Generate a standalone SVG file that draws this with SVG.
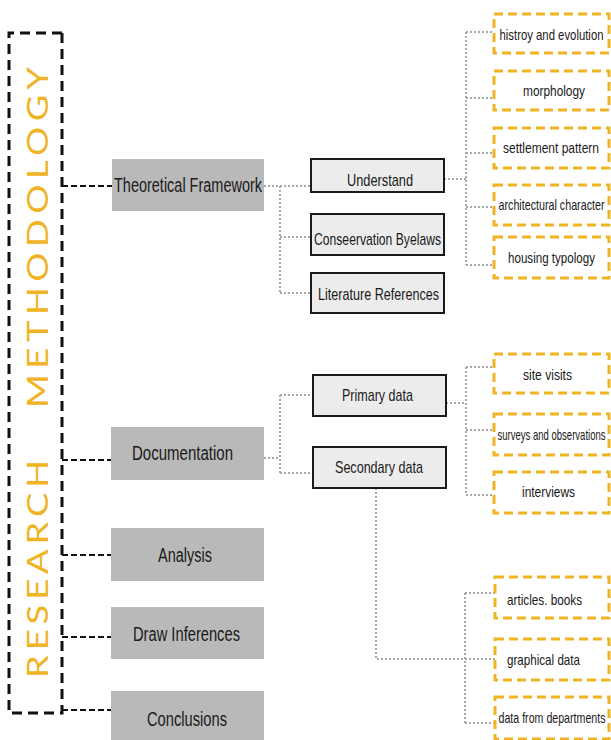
<svg xmlns="http://www.w3.org/2000/svg" width="611" height="740" viewBox="0 0 611 740">
<style>
.grey rect{fill:#b9b9b9;stroke:none}
.white rect{fill:#ececec;stroke:#1a1a1a;stroke-width:2}
.orange rect{fill:#fff;stroke:#f0b323;stroke-width:3;stroke-dasharray:9 5}
text{font-family:"Liberation Sans",Arial,sans-serif;fill:#1a1a1a;text-anchor:middle}
.grey text{font-size:20px}
.white text{font-size:17px}
.orange text{font-size:15px}
.blk{fill:none;stroke:#111;stroke-width:2;stroke-dasharray:6 3}
.dot{fill:none;stroke:#a8a8a8;stroke-width:2;stroke-dasharray:2 2}
.title{font-family:Lato,"Noto Sans",sans-serif;font-weight:400;font-size:28px;fill:#f0b323;text-anchor:start}
</style>
<rect width="611" height="740" fill="#fff"/>
<g id="frame">
<path d="M62,33 H9 V713 H62 V33" fill="none" stroke="#111" stroke-width="3" stroke-dasharray="10 6"/>
<text class="title" transform="translate(48,678) rotate(-90) scale(1.3,1)" textLength="167.7" lengthAdjust="spacing">RESEARCH</text>
<text class="title" transform="translate(48,408) rotate(-90) scale(1.3,1)" textLength="262.3" lengthAdjust="spacing">METHODOLOGY</text>
</g>
<g id="connectors">
<path class="blk" d="M62,186 H112 M62,460 H111 M62,555 H111 M62,637 H111 M62,710 H111"/>
<path class="dot" d="M264,186 H311 M280,186 V293 M280,237 H311 M280,293 H311"/>
<path class="dot" d="M444,179 H466 M466,32 V265 M466,32 H494 M466,98 H494 M466,153 H494 M466,207 H494 M466,265 H494"/>
<path class="dot" d="M264,458 H280 M280,395 V473 M280,395 H313 M280,473 H313"/>
<path class="dot" d="M446,403 H466 M466,367 V495 M466,367 H494 M466,430 H494 M466,495 H494"/>
<path class="dot" d="M376,488 V659 H495 M465,593 V723 M465,593 H495 M465,723 H495"/>
</g>
<g id="n-theoretical" class="grey"><rect x="112" y="159" width="152" height="52"/><text x="188" y="192" textLength="148" lengthAdjust="spacingAndGlyphs">Theoretical Framework</text></g>
<g id="n-documentation" class="grey"><rect x="111" y="427" width="153" height="53"/><text x="182.5" y="460" textLength="101" lengthAdjust="spacingAndGlyphs">Documentation</text></g>
<g id="n-analysis" class="grey"><rect x="111" y="528" width="153" height="53"/><text x="185" y="562" textLength="54" lengthAdjust="spacingAndGlyphs">Analysis</text></g>
<g id="n-inferences" class="grey"><rect x="111" y="607" width="153" height="52"/><text x="186.5" y="641" textLength="107" lengthAdjust="spacingAndGlyphs">Draw Inferences</text></g>
<g id="n-conclusions" class="grey"><rect x="111" y="691" width="153" height="53"/><text x="187" y="726" textLength="80" lengthAdjust="spacingAndGlyphs">Conclusions</text></g>
<g id="n-understand" class="white"><rect x="311" y="159" width="133" height="33"/><text x="380" y="186" textLength="66" lengthAdjust="spacingAndGlyphs">Understand</text></g>
<g id="n-byelaws" class="white"><rect x="311" y="214" width="133" height="41"/><text x="377.5" y="245" textLength="127" lengthAdjust="spacingAndGlyphs">Conseervation Byelaws</text></g>
<g id="n-literature" class="white"><rect x="311" y="273" width="133" height="40"/><text x="378.5" y="300" textLength="121" lengthAdjust="spacingAndGlyphs">Literature References</text></g>
<g id="n-primary" class="white"><rect x="313" y="375" width="133" height="41"/><text x="377.5" y="401" textLength="71" lengthAdjust="spacingAndGlyphs">Primary data</text></g>
<g id="n-secondary" class="white"><rect x="313" y="447" width="133" height="41"/><text x="379" y="473" textLength="88" lengthAdjust="spacingAndGlyphs">Secondary data</text></g>
<g id="n-history" class="orange"><rect x="494" y="14" width="115" height="39"/><text x="551.5" y="40" textLength="104" lengthAdjust="spacingAndGlyphs">histroy and evolution</text></g>
<g id="n-morphology" class="orange"><rect x="494" y="71" width="115" height="39"/><text x="554" y="96" textLength="62" lengthAdjust="spacingAndGlyphs">morphology</text></g>
<g id="n-settlement" class="orange"><rect x="494" y="128" width="115" height="40"/><text x="551" y="153" textLength="96" lengthAdjust="spacingAndGlyphs">settlement pattern</text></g>
<g id="n-architectural" class="orange"><rect x="494" y="185" width="115" height="40"/><text x="551.5" y="210" textLength="106" lengthAdjust="spacingAndGlyphs">architectural character</text></g>
<g id="n-housing" class="orange"><rect x="494" y="237" width="115" height="41"/><text x="551.5" y="263" textLength="87" lengthAdjust="spacingAndGlyphs">housing typology</text></g>
<g id="n-site" class="orange"><rect x="494" y="354" width="115" height="39"/><text x="547.5" y="380" textLength="49" lengthAdjust="spacingAndGlyphs">site visits</text></g>
<g id="n-surveys" class="orange"><rect x="494" y="414" width="115" height="41"/><text x="551.5" y="440" textLength="108" lengthAdjust="spacingAndGlyphs">surveys and observations</text></g>
<g id="n-interviews" class="orange"><rect x="494" y="472" width="115" height="41"/><text x="548.5" y="497" textLength="53" lengthAdjust="spacingAndGlyphs">interviews</text></g>
<g id="n-articles" class="orange"><rect x="495" y="577" width="114" height="41"/><text x="544.5" y="605" textLength="75" lengthAdjust="spacingAndGlyphs">articles. books</text></g>
<g id="n-graphical" class="orange"><rect x="495" y="639" width="114" height="41"/><text x="543.5" y="665" textLength="73" lengthAdjust="spacingAndGlyphs">graphical data</text></g>
<g id="n-departments" class="orange"><rect x="495" y="697" width="114" height="42"/><text x="552" y="723" textLength="107" lengthAdjust="spacingAndGlyphs">data from departments</text></g>
</svg>
